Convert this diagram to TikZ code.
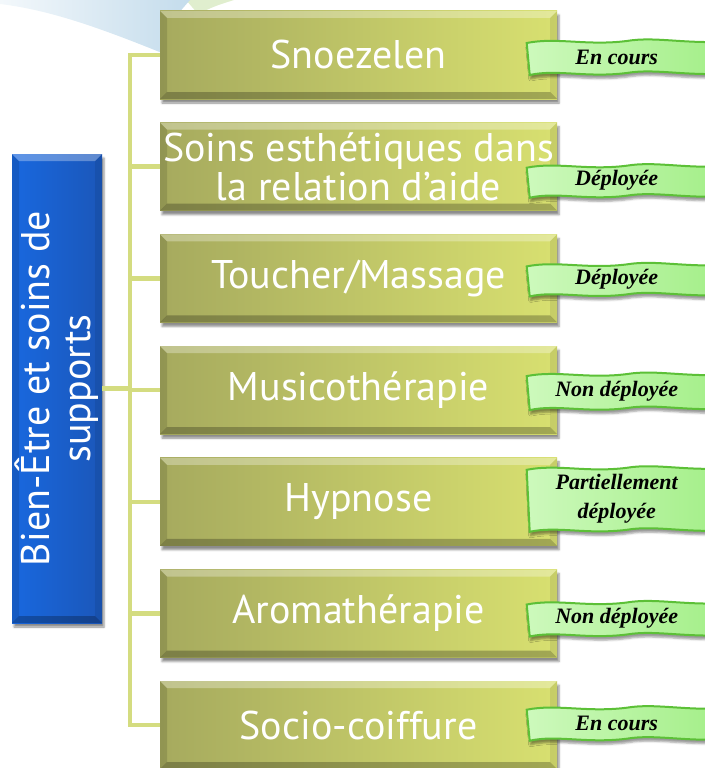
\documentclass[tikz,border=0pt]{standalone}
\usepackage{fontspec}
\setmainfont{PT Sans}
\newfontfamily\flagfont{Liberation Serif}
\usepackage{tikz}
\usetikzlibrary{positioning, calc, shadows.blur}
\definecolor{olivedark}{RGB}{166,170,94}
\definecolor{olivelight}{RGB}{216,224,112}
\definecolor{bluedark}{RGB}{28,80,170}
\definecolor{bluemid}{RGB}{24,108,232}
\definecolor{linkgreen}{RGB}{212,220,128}
\definecolor{flagfill}{RGB}{160,238,132}
\definecolor{flaglight}{RGB}{205,249,188}
\definecolor{flagline}{RGB}{92,192,55}
\definecolor{swooshblue}{RGB}{196,220,236}
\definecolor{swooshgreen}{RGB}{224,238,206}
\tikzstyle{bevel} = [path picture={
    \coordinate (nw) at (path picture bounding box.north west);
    \coordinate (ne) at (path picture bounding box.north east);
    \coordinate (sw) at (path picture bounding box.south west);
    \coordinate (se) at (path picture bounding box.south east);
    \fill[white, opacity=0.3] (nw) -- (ne) -- ([xshift=-7pt,yshift=-7pt]ne) -- ([xshift=7pt,yshift=-7pt]nw) -- cycle;
    \fill[black, opacity=0.12] (nw) -- (sw) -- ([xshift=7pt,yshift=7pt]sw) -- ([xshift=7pt,yshift=-7pt]nw) -- cycle;
    \fill[black, opacity=0.25] (sw) -- (se) -- ([xshift=-7pt,yshift=7pt]se) -- ([xshift=7pt,yshift=7pt]sw) -- cycle;
    \fill[black, opacity=0.08] (ne) -- (se) -- ([xshift=-7pt,yshift=7pt]se) -- ([xshift=-7pt,yshift=-7pt]ne) -- cycle;
  }]
\tikzstyle{item} = [rectangle, minimum width=397pt, minimum height=88pt, inner sep=2pt, left color=olivedark, right color=olivelight, text=white, align=center, font=\fontsize{40}{39}\selectfont, bevel, blur shadow={shadow xshift=2pt, shadow yshift=-4pt, shadow opacity=45}]
\tikzstyle{topic} = [rectangle, minimum width=90pt, minimum height=469pt, left color=bluemid!85!bluedark, middle color=bluemid, right color=bluedark!75!bluemid, bevel, blur shadow={shadow xshift=2pt, shadow yshift=-4pt, shadow opacity=45}]
\tikzstyle{topictext} = [rotate=90, text=white, align=center, font=\fontsize{40}{41}\selectfont]
\tikzstyle{flag} = [draw=flagline, line width=2pt, left color=flaglight, right color=flagfill, blur shadow={shadow xshift=1pt, shadow yshift=-4pt, shadow opacity=40}]
\tikzstyle{status} = [align=center, inner sep=0pt, font=\flagfont\fontsize{22}{23}\selectfont\bfseries\itshape]
\tikzstyle{link} = [draw=linkgreen, line width=4.5pt]
% wavy status banner: box, name, vertical shift, height, text
\newcommand\statusflag[5]{%
  \begin{scope}[shift={($(#1.east)+(-30.5,#3)$)}]
    \path[flag] (0,{2-#4/2}) .. controls (30,{-4-#4/2}) and (60,{5-#4/2}) .. (100,{-#4/2})
      .. controls (130,{-5-#4/2}) and (160,{4-#4/2}) .. (210,{-#4/2})
      -- (210,{#4/2}) .. controls (160,{4+#4/2}) and (130,{-5+#4/2}) .. (100,{#4/2})
      .. controls (60,{5+#4/2}) and (30,{-4+#4/2}) .. (3,{2+#4/2}) -- cycle;
    \node (#2) [status] at (90,0) {#5};
  \end{scope}}

\begin{document}
\begin{tikzpicture}[x=1pt, y=-1pt, node distance=23.3pt]
\useasboundingbox (0,0) rectangle (704,768);
% background swoosh
\fill[swooshgreen] (186,0) -- (234,0) .. controls (215,6) .. (198,14) -- cycle;
\shade[left color=swooshblue!20, right color=swooshblue] (0,0) -- (190,0) .. controls (176,16) .. (162,40)
  -- (162,53) .. controls (100,28) and (50,10) .. (0,4) -- cycle;
\node (b1) [item] at (358.5,55) {Snoezelen};
\node (b2) [item, below=of b1] {Soins esthétiques dans\\la relation d’aide};
\node (b3) [item, below=of b2] {Toucher/Massage};
\node (b4) [item, below=of b3] {Musicothérapie};
\node (b5) [item, below=of b4] {Hypnose};
\node (b6) [item, below=of b5] {Aromathérapie};
\node (b7) [item, below=of b6] {Socio-coiffure};
\node (topic) [topic] at (57,388.5) {};
\node (topictext) [topictext] at (topic) {Bien-Être et soins de\\supports};
\coordinate (trunk) at (130,388.5);
\draw[link] (topic.east) -- (trunk);
\foreach \i in {1,...,7}
  \draw[link] (trunk) |- (b\i.west);
\statusflag{b1}{s1}{2}{32}{En cours}
\statusflag{b2}{s2}{14}{30}{Déployée}
\statusflag{b3}{s3}{1}{30}{Déployée}
\statusflag{b4}{s4}{1}{34}{Non déployée}
\statusflag{b5}{s5}{-3}{62}{Partiellement\\[6pt]déployée}
\statusflag{b6}{s6}{5}{32}{Non déployée}
\statusflag{b7}{s7}{-2}{31}{En cours}
\end{tikzpicture}
\end{document}
